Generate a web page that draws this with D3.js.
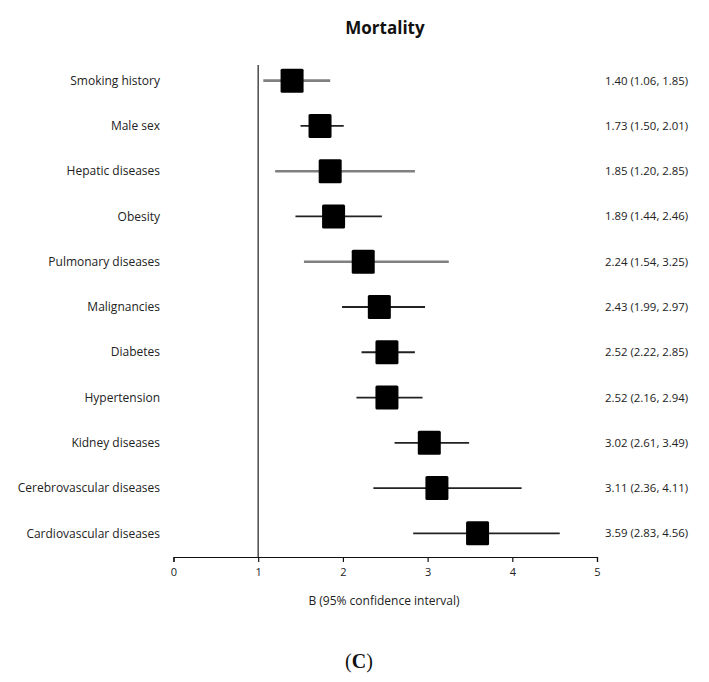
<!DOCTYPE html>
<html><head><meta charset="utf-8">
<script src="https://cdn.jsdelivr.net/npm/d3@7"></script>
<style>body{margin:0;background:#fff}</style>
</head><body>
<svg id="c" width="709" height="682"></svg>
<script>
const categories = ["Smoking history","Male sex","Hepatic diseases","Obesity","Pulmonary diseases","Malignancies","Diabetes","Hypertension","Kidney diseases","Cerebrovascular diseases","Cardiovascular diseases"];
const estimates = [1.40,1.73,1.85,1.89,2.24,2.43,2.52,2.52,3.02,3.11,3.59];
const lowers = [1.06,1.50,1.20,1.44,1.54,1.99,2.22,2.16,2.61,2.36,2.83];
const uppers = [1.85,2.01,2.85,2.46,3.25,2.97,2.85,2.94,3.49,4.11,4.56];
const lineGray = [true,false,true,false,true,false,false,false,false,false,false];
const xTicks = [0,1,2,3,4,5];
const title = "Mortality";
const xLabel = "B (95% confidence interval)";

const svg = d3.select("#c");
const font = "'Open Sans', 'Liberation Sans', sans-serif";
const x = d3.scaleLinear().domain([0,5]).range([173.5,597]);
const y = d3.scaleBand().domain(categories).range([58,556]).paddingInner(0).paddingOuter(0);
const yc = d => y(d) + y.bandwidth()/2;

svg.append("text").attr("x",385).attr("y",34).attr("text-anchor","middle")
  .attr("font-family",font).attr("font-weight","bold").attr("font-size",17).attr("fill","#111").text(title);

// x axis
const ax = svg.append("g").attr("transform","translate(0,557)")
  .call(d3.axisBottom(x).tickValues(xTicks).tickSize(5).tickFormat(d3.format("d")));
ax.select(".domain").attr("stroke","#111").attr("stroke-width",1.2);
ax.selectAll(".tick line").attr("stroke","#111").attr("stroke-width",1.2);
ax.selectAll(".tick text").attr("font-family",font).attr("font-size",11).attr("fill","#222").attr("dy","1em");

svg.append("text").attr("x",384).attr("y",605).attr("text-anchor","middle")
  .attr("font-family",font).attr("font-size",12).attr("fill","#222").text(xLabel);

// reference line at 1
svg.append("line").attr("x1",x(1)).attr("x2",x(1)).attr("y1",65).attr("y2",557)
  .attr("stroke","#555").attr("stroke-width",1.6);

const rows = svg.append("g").selectAll("g").data(categories).join("g");
rows.append("line")
  .attr("x1",(d,i)=>x(lowers[i])).attr("x2",(d,i)=>x(uppers[i]))
  .attr("y1",d=>yc(d)).attr("y2",d=>yc(d))
  .attr("stroke",(d,i)=>lineGray[i]?"#808080":"#222")
  .attr("stroke-width",(d,i)=>lineGray[i]?2.6:1.8);
rows.append("rect")
  .attr("x",(d,i)=>x(estimates[i])-11.5).attr("y",d=>yc(d)-12)
  .attr("width",23).attr("height",24).attr("rx",1.5).attr("fill","#000");
rows.append("text").attr("x",160).attr("y",d=>yc(d)).attr("dy","0.35em")
  .attr("text-anchor","end").attr("font-family",font).attr("font-size",12).attr("fill","#222").text(d=>d);
rows.append("text").attr("x",605).attr("y",d=>yc(d)).attr("dy","0.35em")
  .attr("text-anchor","start").attr("font-family",font).attr("font-size",11.4).attr("fill","#222")
  .text((d,i)=>`${estimates[i].toFixed(2)} (${lowers[i].toFixed(2)}, ${uppers[i].toFixed(2)})`);

const cap = svg.append("text").attr("x",359).attr("y",668).attr("text-anchor","middle")
  .attr("font-family","'Liberation Serif', 'DejaVu Serif', serif").attr("font-size",20).attr("fill","#111");
cap.append("tspan").text("(");
cap.append("tspan").attr("font-weight","bold").text("C");
cap.append("tspan").text(")");
</script>
</body></html>
